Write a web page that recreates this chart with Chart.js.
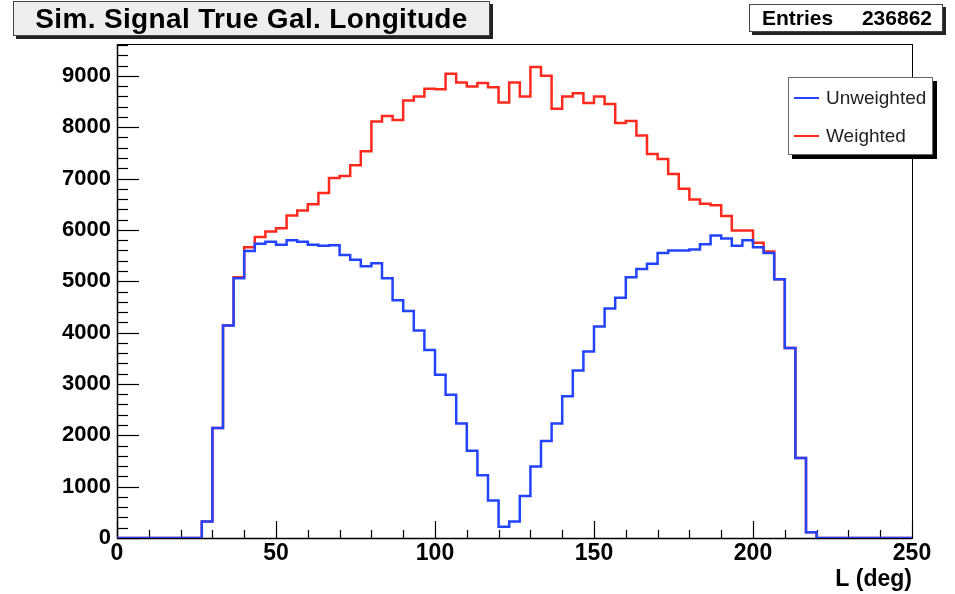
<!DOCTYPE html>
<html>
<head>
<meta charset="utf-8">
<script src="https://cdn.jsdelivr.net/npm/chart.js@4.4.1/dist/chart.umd.min.js"></script>
<style>
  body { margin: 0; background: #fff; font-family: "Liberation Sans", Arial, sans-serif; }
  #wrap { position: relative; width: 955px; height: 594px; }
  #title {
    position: absolute; left: 13px; top: 1px; width: 477px; height: 35px;
    box-sizing: border-box; background: #eeeeee; border: 1px solid #444;
    box-shadow: 3px 3px 0 #222; font-weight: bold; font-size: 28px;
    letter-spacing: 0.35px; line-height: 33px; text-align: center; color: #000;
  }
  #stats {
    position: absolute; left: 749px; top: 4px; width: 194px; height: 28px;
    box-sizing: border-box; background: #fff; border: 1px solid #444;
    box-shadow: 3px 3px 0 #222; font-weight: bold; font-size: 21px;
    line-height: 26px; display: flex; justify-content: space-between;
    padding: 0 10px 0 12px; color: #000;
  }
  #legend {
    position: absolute; left: 788px; top: 77px; width: 145px; height: 78px;
    box-sizing: border-box; background: #fff; border: 1px solid #666;
    box-shadow: 4px 4px 0 #000; padding-top: 1px; color: #222; font-size: 19px;
  }
  #legend .row { height: 38px; display: flex; align-items: center; }
  #legend .swatch { width: 25px; height: 2.5px; margin-left: 5px; margin-right: 7px; }
</style>
</head>
<body>
<div id="wrap">
  <canvas id="c" width="955" height="594"></canvas>
  <div id="title">Sim. Signal True Gal. Longitude</div>
  <div id="stats"><span>Entries</span><span id="entries"></span></div>
  <div id="legend"></div>
</div>
<script>
// histogram binning
var xMin = 0, xMax = 250, nBins = 75;
var yMax = 9620;
var entries = 236862;

// labelled ticks
var xTickValues = [0, 50, 100, 150, 200, 250];
var yTickValues = [0, 1000, 2000, 3000, 4000, 5000, 6000, 7000, 8000, 9000];

// bin contents
var unweighted = [
  0, 0, 0, 0, 0, 0, 0, 0,
  320, 2140, 4140, 5060, 5590, 5730, 5770, 5710, 5800, 5770,
  5710, 5690, 5700, 5510, 5420, 5290, 5350, 5060, 4630, 4420,
  4040, 3660, 3180, 2790, 2230, 1700, 1220, 730, 220, 320,
  820, 1390, 1890, 2230, 2760, 3260, 3630, 4120, 4470, 4680,
  5080, 5240, 5340, 5550, 5600, 5600, 5620, 5720, 5890, 5830,
  5690, 5800, 5660, 5550, 5040, 3700, 1560, 110,
  0, 0, 0, 0, 0, 0, 0, 0, 0
];
var weighted = [
  0, 0, 0, 0, 0, 0, 0, 0,
  320, 2140, 4140, 5080, 5660, 5860, 5970, 6030, 6280, 6380,
  6500, 6720, 7010, 7050, 7260, 7530, 8110, 8220, 8140, 8520,
  8600, 8750, 8740, 9040, 8870, 8790, 8860, 8780, 8480, 8870,
  8600, 9170, 9000, 8360, 8600, 8660, 8470, 8600, 8450, 8080,
  8120, 7840, 7480, 7380, 7090, 6800, 6590, 6510, 6480, 6270,
  5990, 5990, 5750, 5580, 5040, 3700, 1560, 110,
  0, 0, 0, 0, 0, 0, 0, 0, 0
];

var seriesNames = ["Unweighted", "Weighted"];
var seriesColors = ["#2244ff", "#ff2a1e"];

// turn bin contents into step points at the low edge of each bin
function histPoints(vals) {
  var w = (xMax - xMin) / nBins;
  var pts = vals.map(function(v, i) { return { x: xMin + i * w, y: v }; });
  pts.push({ x: xMax, y: vals[vals.length - 1] });
  return pts;
}

// ROOT style frame with inward ticks
var rootFrame = {
  id: "rootFrame",
  beforeDatasetsDraw: function(chart) {
    var ctx = chart.ctx, a = chart.chartArea;
    var xs = chart.scales.x, ys = chart.scales.y;
    ctx.save();
    ctx.strokeStyle = "#000";
    ctx.lineWidth = 1;
    ctx.strokeRect(a.left + 0.5, a.top + 0.5, a.right - a.left, a.bottom - a.top);
    ctx.lineWidth = 1.5;
    ctx.beginPath();
    ctx.moveTo(a.left + 0.5, a.top);
    ctx.lineTo(a.left + 0.5, a.bottom + 0.5);
    ctx.lineTo(a.right, a.bottom + 0.5);
    ctx.stroke();
    ctx.lineWidth = 1.2;
    for (var v = 0; v <= yMax; v += 200) {
      var py = Math.round(ys.getPixelForValue(v)) + 0.5;
      var len = v % 1000 === 0 ? 22 : 11;
      ctx.beginPath();
      ctx.moveTo(a.left, py);
      ctx.lineTo(a.left + len, py);
      ctx.stroke();
    }
    for (var u = xMin; u <= xMax; u += 10) {
      var px = Math.round(xs.getPixelForValue(u)) + 0.5;
      var l = u % 50 === 0 ? 17 : 8;
      ctx.beginPath();
      ctx.moveTo(px, a.bottom);
      ctx.lineTo(px, a.bottom - l);
      ctx.stroke();
    }
    ctx.restore();
  }
};

Chart.defaults.font.family = "'Liberation Sans', Arial, sans-serif";
Chart.defaults.color = "#000";

var datasets = seriesNames.map(function(name, i) {
  return {
    label: name,
    data: histPoints(i === 0 ? unweighted : weighted),
    borderColor: seriesColors[i],
    borderWidth: 2.5,
    pointRadius: 0,
    stepped: true,
    fill: false
  };
});

var chart = new Chart(document.getElementById("c"), {
  type: "line",
  data: { datasets: datasets },
  plugins: [rootFrame],
  options: {
    responsive: false,
    animation: false,
    layout: { padding: { left: 0, top: 44, right: 43, bottom: 0 } },
    plugins: { legend: { display: false }, tooltip: { enabled: false } },
    scales: {
      x: {
        type: "linear",
        min: xMin,
        max: xMax,
        grid: { display: false, drawTicks: false },
        border: { display: false },
        afterBuildTicks: function(s) {
          s.ticks = xTickValues.map(function(v) { return { value: v }; });
        },
        ticks: { autoSkip: false, maxRotation: 0, padding: 2,
                 font: { size: 23, weight: "bold" },
                 callback: function(v) { return String(v); } },
        title: { display: true, text: "L (deg)", align: "end",
                 font: { size: 23, weight: "bold" }, padding: { top: 0, bottom: 1 } },
        afterFit: function(s) { s.height = 56; }
      },
      y: {
        type: "linear",
        min: 0,
        max: yMax,
        grid: { display: false, drawTicks: false },
        border: { display: false },
        afterBuildTicks: function(s) {
          s.ticks = yTickValues.map(function(v) { return { value: v }; });
        },
        ticks: {
          autoSkip: false, padding: 6,
          font: { size: 22, weight: "bold" },
          callback: function(v) { return String(v); }
        },
        afterFit: function(s) { s.width = 117; }
      }
    }
  }
});

document.getElementById("entries").textContent = entries;

// legend box from the datasets
var leg = document.getElementById("legend");
chart.data.datasets.forEach(function(ds) {
  var row = document.createElement("div");
  row.className = "row";
  var sw = document.createElement("span");
  sw.className = "swatch";
  sw.style.background = ds.borderColor;
  var tx = document.createElement("span");
  tx.textContent = ds.label;
  row.appendChild(sw);
  row.appendChild(tx);
  leg.appendChild(row);
});
</script>
</body>
</html>
